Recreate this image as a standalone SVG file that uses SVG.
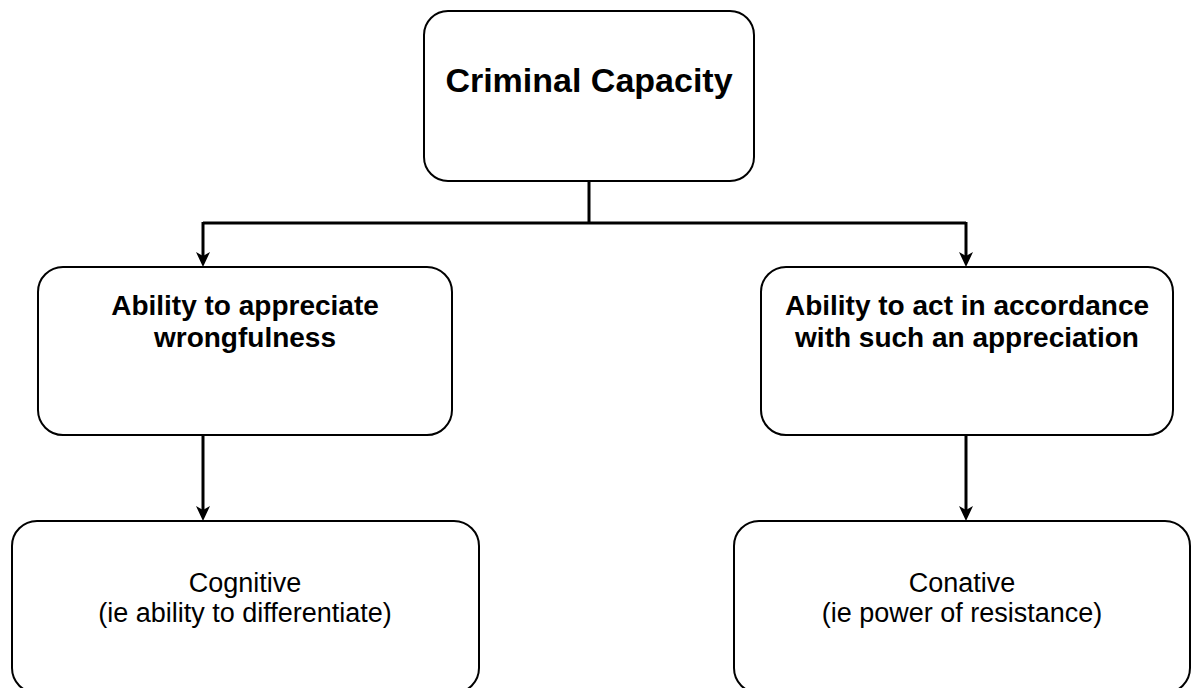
<svg xmlns="http://www.w3.org/2000/svg" width="1192" height="688" viewBox="0 0 1192 688">
<style>
.box{fill:#ffffff;stroke:#000000;stroke-width:2}
.conn{fill:none;stroke:#000000;stroke-width:3}
.t{font-family:"Liberation Sans",Arial,sans-serif;fill:#000000;text-anchor:middle}
.b{font-weight:bold}
</style>
<defs>
<marker id="arr" viewBox="0 0 15 14" refX="11" refY="7" markerWidth="15" markerHeight="14" markerUnits="userSpaceOnUse" orient="auto">
<path d="M0,0 L15,7 L0,14 L4,7 Z" fill="#000000"/>
</marker>
</defs>
<rect x="0" y="0" width="1192" height="688" fill="#ffffff"/>
<g id="connectors">
<path class="conn" d="M589,181 V223"/>
<path class="conn" d="M203,223 H966"/>
<path class="conn" d="M203,222 V263" marker-end="url(#arr)"/>
<path class="conn" d="M966,222 V263" marker-end="url(#arr)"/>
<path class="conn" d="M203,435 V517" marker-end="url(#arr)"/>
<path class="conn" d="M966,435 V517" marker-end="url(#arr)"/>
</g>
<g id="node-criminal-capacity">
<rect class="box" x="424" y="11" width="330" height="170" rx="24" ry="24"/>
<text class="t b" x="589" y="92" font-size="34">Criminal Capacity</text>
</g>
<g id="node-appreciate">
<rect class="box" x="38" y="267" width="414" height="168" rx="25" ry="25"/>
<text class="t b" font-size="28"><tspan x="245" y="315">Ability to appreciate</tspan><tspan x="245" y="347">wrongfulness</tspan></text>
</g>
<g id="node-act">
<rect class="box" x="761" y="267" width="412" height="168" rx="25" ry="25"/>
<text class="t b" font-size="28"><tspan x="967" y="315">Ability to act in accordance</tspan><tspan x="967" y="347">with such an appreciation</tspan></text>
</g>
<g id="node-cognitive">
<rect class="box" x="12" y="521" width="467" height="172" rx="25" ry="25"/>
<text class="t" font-size="27"><tspan x="245" y="592">Cognitive</tspan><tspan x="245" y="622">(ie ability to differentiate)</tspan></text>
</g>
<g id="node-conative">
<rect class="box" x="734" y="521" width="456" height="172" rx="25" ry="25"/>
<text class="t" font-size="27"><tspan x="962" y="592">Conative</tspan><tspan x="962" y="622">(ie power of resistance)</tspan></text>
</g>
</svg>
